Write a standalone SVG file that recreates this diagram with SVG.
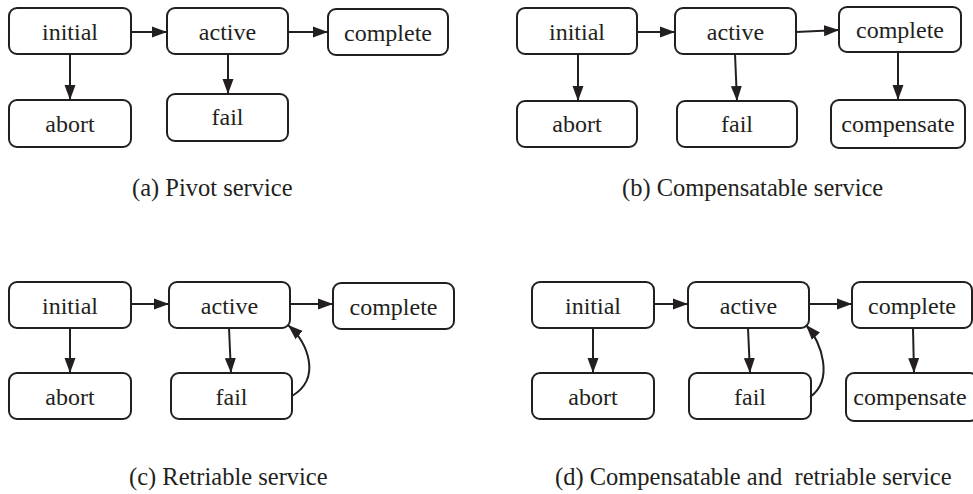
<svg xmlns="http://www.w3.org/2000/svg" width="973" height="494" viewBox="0 0 973 494">
<defs>
<style>
.n rect{fill:#fff;stroke:#231f20;stroke-width:2}
.n text,.cap{font-family:"Liberation Serif","Times New Roman",serif;fill:#231f20;font-size:24px}
.n text{text-anchor:middle}
.cap{font-size:24.5px}
.e path{fill:none;stroke:#231f20;stroke-width:2;marker-end:url(#ah)}
</style>
<marker id="ah" markerUnits="userSpaceOnUse" markerWidth="15" markerHeight="12" refX="15" refY="6" orient="auto">
<path d="M0,0.5 L15,6 L0,11.5 z" fill="#231f20"/>
</marker>
</defs>
<rect width="973" height="494" fill="#fff"/>

<!-- (a) -->
<g id="a-initial" class="n"><rect x="9" y="8" width="122" height="46" rx="8"/><text x="70" y="40">initial</text></g>
<g id="a-active" class="n"><rect x="167" y="8" width="121" height="46" rx="8"/><text x="227.5" y="40">active</text></g>
<g id="a-complete" class="n"><rect x="328" y="9" width="120" height="46" rx="8"/><text x="388" y="41">complete</text></g>
<g id="a-abort" class="n"><rect x="9" y="100" width="122" height="47" rx="8"/><text x="70" y="132">abort</text></g>
<g id="a-fail" class="n"><rect x="167" y="94" width="121" height="47" rx="8"/><text x="227.5" y="125">fail</text></g>

<!-- (b) -->
<g id="b-initial" class="n"><rect x="517" y="8" width="120" height="46" rx="8"/><text x="577" y="40">initial</text></g>
<g id="b-active" class="n"><rect x="675" y="8" width="121" height="46" rx="8"/><text x="735.5" y="40">active</text></g>
<g id="b-complete" class="n"><rect x="839" y="7" width="122" height="45" rx="8"/><text x="900" y="38">complete</text></g>
<g id="b-abort" class="n"><rect x="517" y="101" width="120" height="46" rx="8"/><text x="577" y="132">abort</text></g>
<g id="b-fail" class="n"><rect x="677" y="101" width="120" height="46" rx="8"/><text x="737" y="132">fail</text></g>
<g id="b-compensate" class="n"><rect x="831" y="100" width="134" height="48" rx="8"/><text x="898" y="132">compensate</text></g>

<!-- (c) -->
<g id="c-initial" class="n"><rect x="9" y="282" width="122" height="46" rx="8"/><text x="70" y="314">initial</text></g>
<g id="c-active" class="n"><rect x="169" y="282" width="121" height="46" rx="8"/><text x="229.5" y="314">active</text></g>
<g id="c-complete" class="n"><rect x="333" y="283" width="121" height="46" rx="8"/><text x="393.5" y="315">complete</text></g>
<g id="c-abort" class="n"><rect x="9" y="373" width="122" height="46" rx="8"/><text x="70" y="405">abort</text></g>
<g id="c-fail" class="n"><rect x="171" y="373" width="121" height="46" rx="8"/><text x="231.5" y="405">fail</text></g>

<!-- (d) -->
<g id="d-initial" class="n"><rect x="532" y="282" width="122" height="46" rx="8"/><text x="593" y="314">initial</text></g>
<g id="d-active" class="n"><rect x="688" y="282" width="121" height="46" rx="8"/><text x="748.5" y="314">active</text></g>
<g id="d-complete" class="n"><rect x="852" y="282" width="120" height="46" rx="8"/><text x="912" y="314">complete</text></g>
<g id="d-abort" class="n"><rect x="532" y="373" width="122" height="46" rx="8"/><text x="593" y="405">abort</text></g>
<g id="d-fail" class="n"><rect x="689" y="373" width="122" height="46" rx="8"/><text x="750" y="405">fail</text></g>
<g id="d-compensate" class="n"><rect x="846" y="373" width="132" height="48" rx="8"/><text x="910" y="405">compensate</text></g>

<g id="connectors" class="e">
<path d="M131,32 L167,32"/>
<path d="M288,32 L328,32"/>
<path d="M70,54 L70,100"/>
<path d="M228,54 L228,94"/>

<path d="M637,32 L675,32"/>
<path d="M796,32 L839,30"/>
<path d="M578,54 L578,101"/>
<path d="M735,54 L737,101"/>
<path d="M898,52 L898,100"/>

<path d="M131,304 L169,304"/>
<path d="M290,304 L333,304"/>
<path d="M70,328 L70,373"/>
<path d="M229,328 L231,373"/>
<path d="M292,396 C322,378 308,343 288,325"/>

<path d="M654,304 L688,304"/>
<path d="M809,304 L852,304"/>
<path d="M593,328 L593,373"/>
<path d="M748,328 L750,373"/>
<path d="M913,328 L914,373"/>
<path d="M810,397 C834,380 822,343 806,325"/>
</g>

<g id="captions">
<text class="cap" x="132" y="196">(a) Pivot service</text>
<text class="cap" x="622" y="196">(b) Compensatable service</text>
<text class="cap" x="129" y="485">(c) Retriable service</text>
<text class="cap" x="555" y="485" xml:space="preserve">(d) Compensatable and  retriable service</text>
</g>
</svg>
